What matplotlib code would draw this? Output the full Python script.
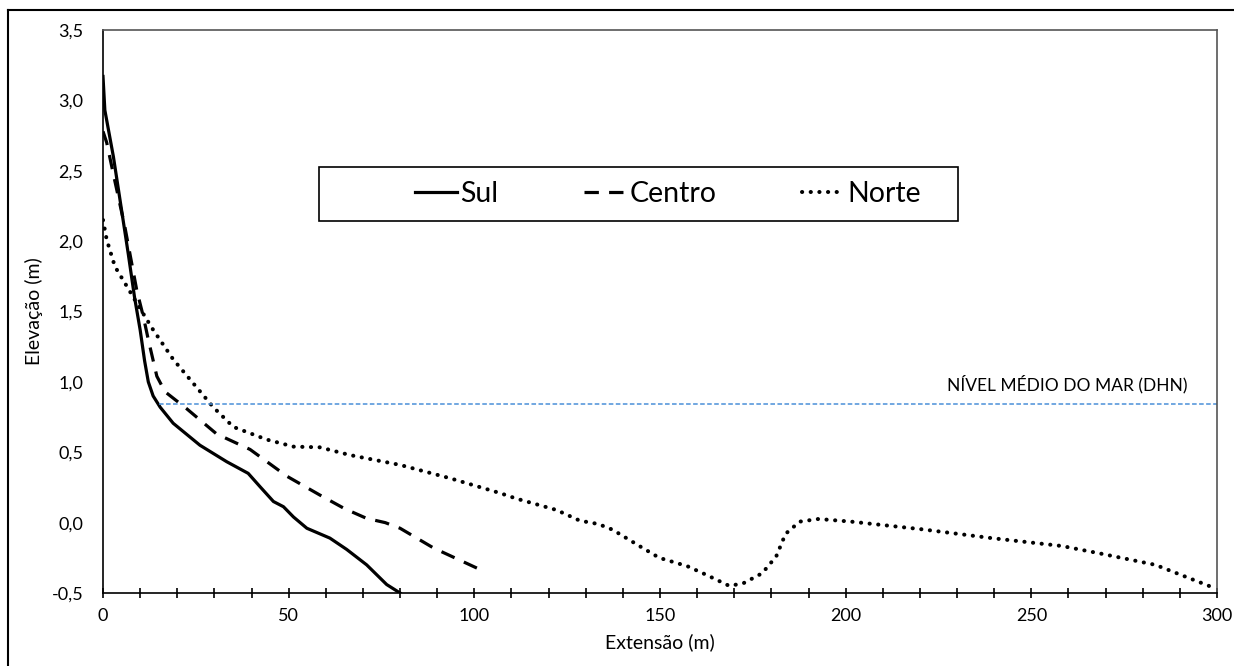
import matplotlib
matplotlib.use("Agg")
import matplotlib.pyplot as plt
from matplotlib.patches import Rectangle
from matplotlib.lines import Line2D

plt.rcParams['font.family'] = ['Lato', 'DejaVu Sans']

# perfis de praia (extensao em m, elevacao em m)
sul_x = [0, 0.5, 2.8, 4.6, 6.8, 8.5, 10, 11.2, 12.2, 13.5, 15.4, 18.9, 26.1, 33.3, 39.1,
         42.3, 45.9, 48.6, 51.3, 54.9, 61.1, 65.6, 71.0, 76.4, 80]
sul_y = [3.17, 2.93, 2.6, 2.29, 1.91, 1.6, 1.37, 1.15, 1.0, 0.9, 0.82, 0.706, 0.55, 0.433, 0.35,
         0.255, 0.15, 0.113, 0.04, -0.04, -0.11, -0.19, -0.30, -0.44, -0.5]

centro_x = [0, 1, 3, 5.9, 9.1, 10.9, 12.2, 14.5, 16.7, 22.5, 30.6, 39.6, 49.5, 58.4, 65,
            71, 76, 80, 89, 102.9]
centro_y = [2.78, 2.7, 2.45, 2.1, 1.65, 1.46, 1.30, 1.04, 0.93, 0.81, 0.63, 0.52, 0.33, 0.196, 0.1,
            0.03, 0.0, -0.04, -0.18, -0.35]

norte_x = [0, 1, 3.2, 6.4, 10, 13.5, 18.9, 24.3, 29.7, 35.1, 44.1, 51.3, 58.4, 66.5, 80,
           93.5, 106.9, 111.4, 122.1, 128.4, 133.4, 137.2, 144.7, 149.8, 157.4, 162.4, 168.7,
           172.5, 177.5, 181.3, 183.8, 187.6, 192.7, 201.5, 220.4, 239.3, 258.2, 268.3, 283.4, 299.8]
norte_y = [2.15, 2.01, 1.82, 1.68, 1.52, 1.37, 1.16, 0.99, 0.82, 0.68, 0.59, 0.54, 0.535, 0.48, 0.41,
           0.315, 0.21, 0.17, 0.09, 0.014, -0.01, -0.05, -0.17, -0.25, -0.31, -0.37, -0.45,
           -0.43, -0.36, -0.24, -0.08, 0.007, 0.026, 0.007, -0.047, -0.11, -0.166, -0.218, -0.30, -0.47]

nivel_mar = 0.84
nivel_x = [15, 300]
y_ticks = [-0.5, 0.0, 0.5, 1.0, 1.5, 2.0, 2.5, 3.0, 3.5]
x_ticks = [0, 50, 100, 150, 200, 250, 300]

fig = plt.figure(figsize=(12.34, 6.66), dpi=100)
ax = fig.add_axes([103/1234, 1-593/666, 1114/1234, 563/666])

ax.plot(sul_x, sul_y, color='black', lw=2.3, label='Sul', solid_joinstyle='round')
ax.plot(centro_x, centro_y, color='black', lw=2.3, ls=(0, (4.5, 3.2)), label='Centro')
ax.plot(norte_x, norte_y, color='black', lw=2.9, ls=(0, (0.05, 2.1)),
        dash_capstyle='round', label='Norte')
ax.plot(nivel_x, [nivel_mar, nivel_mar], color='#4a90d9', lw=1.1, ls=(0, (3, 1.6)))
ax.text(292, nivel_mar + 0.08, 'NÍVEL MÉDIO DO MAR (DHN)', ha='right', va='bottom', fontsize=12.5)

ax.set_xlim(0, 300)
ax.set_ylim(-0.5, 3.5)
ax.set_yticks(y_ticks)
ax.set_yticklabels([('%.1f' % v).replace('.', ',') for v in y_ticks])
ax.set_xticks(x_ticks)
ax.set_xticks(range(0, 301, 10), minor=True)
ax.tick_params(axis='y', length=0, labelsize=13, pad=14)
ax.tick_params(axis='x', which='both', direction='inout', length=7, width=1.2, labelsize=13, pad=7)
for s in ax.spines.values():
    s.set_linewidth(1.2)
ax.spines['top'].set_color('#555555')
ax.spines['right'].set_color('#555555')

ax.set_xlabel('Extensão (m)', fontsize=14, labelpad=7)
ax.set_ylabel('Elevação (m)', fontsize=14, labelpad=6)

# caixa da legenda
ax.add_patch(Rectangle(((319-103)/1114, (593-221)/563), 639/1114, 54/563,
                       transform=ax.transAxes, fill=False, edgecolor='black', lw=1.2, zorder=5))
leg = ax.legend(loc='center', bbox_to_anchor=(0.507, 0.709), ncol=3, frameon=False,
                fontsize=20.5, handlelength=1.5, handletextpad=0.1, columnspacing=3.0)

# moldura externa
fig.add_artist(Line2D([8/1234, 1], [1-10/666, 1-10/666], color='black', lw=1.5))
fig.add_artist(Line2D([8/1234, 8/1234], [0, 1-10/666], color='black', lw=1.5))

fig.savefig('out.png', dpi=100)
